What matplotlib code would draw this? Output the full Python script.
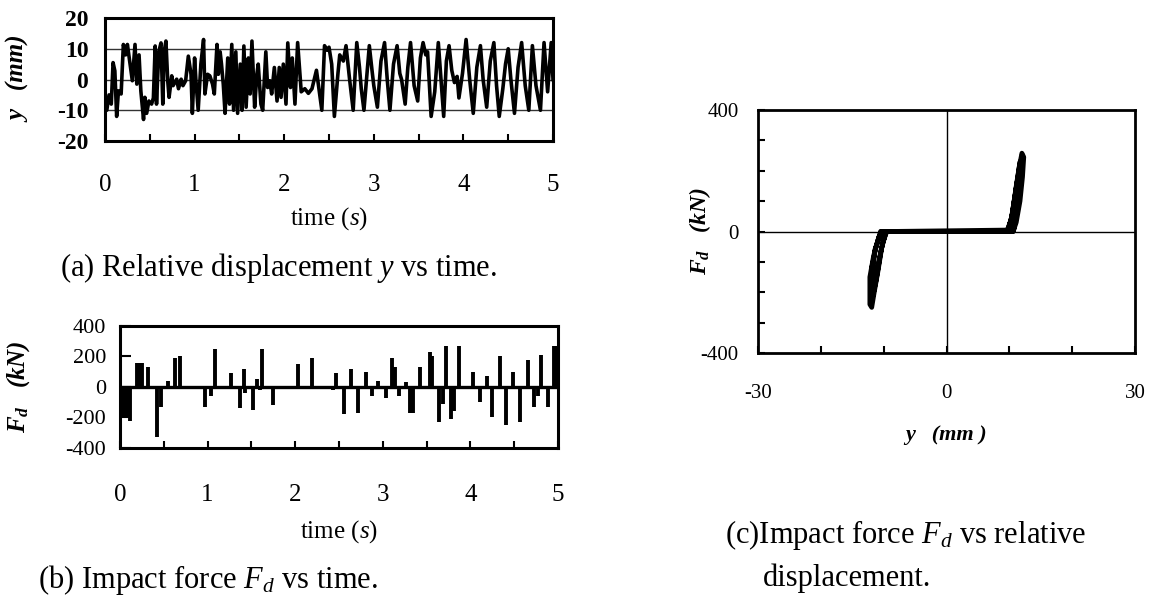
import numpy as np
import matplotlib.pyplot as plt

plt.rcParams['font.family'] = ['Liberation Serif', 'DejaVu Serif']
plt.rcParams['mathtext.fontset'] = 'custom'
plt.rcParams['mathtext.rm'] = 'Liberation Serif'
plt.rcParams['mathtext.it'] = 'Liberation Serif:italic'
plt.rcParams['mathtext.bf'] = 'Liberation Serif:italic:bold'
plt.rcParams['axes.unicode_minus'] = False

# (a) relative displacement y (mm) vs time (s), read as turning points
t_a = [0.00, 0.02, 0.045, 0.07, 0.09, 0.11, 0.13, 0.15, 0.18, 0.205, 0.23, 0.25, 0.28, 0.305,
       0.335, 0.355, 0.38, 0.40, 0.43, 0.445, 0.465, 0.49, 0.52, 0.54, 0.56, 0.575, 0.60, 0.625,
       0.645, 0.66, 0.68, 0.70, 0.715, 0.745, 0.76, 0.80, 0.82, 0.85, 0.87, 0.90, 0.93, 0.96,
       0.975, 1.00, 1.015, 1.04, 1.07, 1.10, 1.115, 1.145, 1.17, 1.20, 1.22, 1.25, 1.265, 1.285,
       1.30, 1.32, 1.34, 1.37, 1.39, 1.415, 1.435, 1.46, 1.48, 1.51, 1.53, 1.55, 1.575, 1.60,
       1.62, 1.64, 1.67, 1.695, 1.71, 1.74, 1.76, 1.795, 1.815, 1.84, 1.86, 1.89, 1.92, 1.945,
       1.965, 1.99, 2.02, 2.04, 2.07, 2.09, 2.12, 2.15, 2.19, 2.23, 2.27, 2.31, 2.36, 2.42,
       2.45, 2.48, 2.50, 2.53, 2.56, 2.60, 2.62, 2.66, 2.69, 2.73, 2.77, 2.81, 2.84, 2.86,
       2.89, 2.95, 2.98, 3.00, 3.04, 3.08, 3.12, 3.15, 3.18, 3.22, 3.26, 3.29, 3.31, 3.35,
       3.38, 3.41, 3.45, 3.49, 3.52, 3.55, 3.58, 3.60, 3.64, 3.68, 3.72, 3.75, 3.78, 3.81,
       3.84, 3.87, 3.90, 3.93, 3.95, 3.99, 4.03, 4.07, 4.11, 4.15, 4.19, 4.22, 4.26, 4.30,
       4.34, 4.37, 4.40, 4.44, 4.47, 4.50, 4.53, 4.57, 4.61, 4.65, 4.69, 4.73, 4.77, 4.81,
       4.86, 4.90, 4.94, 4.98, 5.00]
y_a = [-5.8, -10, -5, -8, 5.5, 2.8, -12, -3.7, -4.7, 11.4, 8, 11.4, 5, -0.4,
       11.4, -1.5, 8, -3.7, -13, -5.8, -11, -7, -8, -6, 10.9, -8, 9, 11.9,
       -8, 9, 12.5, -0.4, -5.8, 1.2, -2, 0.1, -3, 0.1, -2, -0.4, 7.6, 1.7,
       -11, 7, -0.4, -10, 5, 13, -4.7, 1.7, 1.2, -1.5, -4.7, 11.4, 1.7, 9,
       5, -1.5, -11, 7, -8, 11.4, -10, 9, -11, 5, -10, 10.9, -9, 7,
       -4.7, 12.5, -9, 1.7, 5, -8, -10, 9, -2.6, -0.4, -4.7, 3.9, -7, 3.9,
       -5.8, 5, -8, 11.9, -2.6, 7, -8, 12, -4, -3, -4.5, -3, 3, -10,
       11, 9.5, 10.5, 5, -12, 2, 8, 6, 11, 0, -10, 12, 4, -3,
       -10, 11, 3, -2, -9, 6, 12, 0, -10, 5, 11, 2, 0, -8,
       4, 12, -2, -7, 7, 12, 8, 9, -12, -4, 12, 0, -12, 6,
       11, 3, -1, 1, -6, 2, 13, 0, -11, 4, 11, 0, -9, 6,
       12, -2, -12, -3, 5, 10, 0, -11, 4, 12, -2, -10, 11, -2,
       -10, 12, -4, 12, 0]

# (b) impact force spikes (kN) vs time (s)
t_b = [0.02, 0.03, 0.05, 0.07, 0.09, 0.11, 0.19, 0.21, 0.23, 0.25, 0.32, 0.42, 0.47, 0.55,
       0.63, 0.69, 0.97, 1.04, 1.08, 1.27, 1.37, 1.41, 1.43, 1.52, 1.56, 1.60, 1.62, 1.75,
       2.03, 2.19, 2.43, 2.47, 2.56, 2.64, 2.72, 2.81, 2.88, 2.95, 3.04, 3.10, 3.14, 3.19,
       3.27, 3.31, 3.33, 3.35, 3.43, 3.54, 3.56, 3.64, 3.69, 3.72, 3.78, 3.81, 3.87, 4.03,
       4.11, 4.19, 4.25, 4.34, 4.41, 4.49, 4.57, 4.66, 4.73, 4.77, 4.81, 4.89, 4.96, 4.98]
f_b = [-30, -190, -190, -190, -200, -220, 160, 160, 160, 160, 130, -330, -130, 40,
       190, 200, -130, -60, 250, 90, -140, 120, -40, -150, 50, -20, 250, -120,
       150, 190, -20, 90, -180, 120, -170, 100, -60, 40, -70, 190, 130, -60,
       30, -170, -170, -170, 130, 230, 200, -230, -110, 270, -210, -160, 270, 100,
       -100, 70, -200, 200, -250, 100, -230, 180, -130, -60, 210, -130, 270, 270]

# (c) force vs displacement trajectory, y (mm) and F_d (kN)
c_disp = [0.0, 9.6, 10.3, 11.0, 11.6, 12.0, 12.3, 12.1, 11.7, 11.1, 10.6,
          -9.5, -10.2, -10.9, -11.5, -11.9, -12.2, -12.2, -11.6, -10.8, -10.3,
          9.7, 10.4, 11.1, 11.7, 12.0, 11.8, 11.3, 10.7,
          -9.6, -10.4, -11.2, -11.8, -12.1, -11.9, -11.2, -10.5,
          9.8, 10.5, 11.2, 11.6, 11.7, 11.2, 10.6,
          -9.7, -10.6, -11.4, -11.8, -11.4, -10.4, 0.0]
c_force = [0, 0, 40, 130, 215, 258, 245, 180, 100, 30, 0,
           0, -40, -130, -200, -250, -240, -150, -80, -20, 0,
           0, 50, 150, 230, 225, 150, 70, 5,
           0, -60, -160, -220, -200, -120, -50, 0,
           0, 60, 160, 185, 150, 60, 0,
           0, -80, -170, -150, -60, 0, 0]

fig = plt.figure(figsize=(11.61, 6.05), dpi=100)
half_ticks = ['0', '', '1', '', '2', '', '3', '', '4', '', '5']

# ---- (a)
ax_a = fig.add_axes([105 / 1161, 1 - 141 / 605, 448 / 1161, 123 / 605])
for g in (-10, 0, 10):
    ax_a.axhline(g, color='#333333', lw=1.0, zorder=1)
ax_a.plot(t_a, y_a, color='black', lw=2.6, zorder=2)
ax_a.set_xlim(0, 5)
ax_a.set_ylim(-20, 20)
ax_a.set_xticks(np.arange(0, 5.01, 0.5), half_ticks)
ax_a.set_yticks([-20, -10, 0, 10, 20])
ax_a.tick_params(axis='x', direction='in', length=5, width=1.5, pad=24, labelsize=18)
ax_a.tick_params(axis='y', length=0, pad=12, labelsize=17)
for lab in ax_a.get_yticklabels():
    lab.set_fontweight('bold')
for s in ax_a.spines.values():
    s.set_linewidth(2.2)
ax_a.set_xlabel('time ($s$)', fontsize=18, labelpad=6)
ax_a.set_ylabel('y   (mm)', fontsize=18, fontweight='bold', style='italic')
ax_a.yaxis.set_label_coords(-0.163, 0.5)

# ---- (b)
ax_b = fig.add_axes([120 / 1161, 1 - 448 / 605, 438 / 1161, 122 / 605])
ax_b.axhline(0, color='black', lw=2.4, zorder=1)
ax_b.vlines(t_b, 0, f_b, color='black', lw=2.8, zorder=2)
ax_b.set_xlim(0, 5)
ax_b.set_ylim(-400, 400)
ax_b.set_xticks(np.arange(0, 5.01, 0.5), half_ticks)
ax_b.set_yticks([-400, -200, 0, 200, 400])
ax_b.tick_params(axis='x', direction='in', length=5, width=1.5, pad=26, labelsize=18)
ax_b.tick_params(axis='y', direction='in', length=8, width=1.5, pad=10, labelsize=16)
for s in ax_b.spines.values():
    s.set_linewidth(2.2)
ax_b.set_xlabel('time ($s$)', fontsize=18, labelpad=9)
ax_b.set_ylabel(r'$\mathbf{F_d}$   (kN)', fontsize=18, fontweight='bold', style='italic')
ax_b.yaxis.set_label_coords(-0.2, 0.5)

# ---- (c)
ax_c = fig.add_axes([758 / 1161, 1 - 353 / 605, 377 / 1161, 243 / 605])
ax_c.axhline(0, color='black', lw=1.0, zorder=1)
ax_c.axvline(0, color='black', lw=1.0, zorder=1)
ax_c.plot(c_disp, c_force, color='black', lw=3.4, zorder=2, solid_joinstyle='round')
ax_c.set_xlim(-30, 30)
ax_c.set_ylim(-400, 400)
ax_c.set_xticks(np.arange(-30, 31, 10), ['-30', '', '', '0', '', '', '30'])
ax_c.set_yticks(np.arange(-400, 401, 100), ['-400', '', '', '', '0', '', '', '', '400'])
ax_c.tick_params(direction='in', length=5, width=1.5, labelsize=15)
ax_c.tick_params(axis='x', pad=22)
ax_c.tick_params(axis='y', pad=14)
for s in ax_c.spines.values():
    s.set_linewidth(2.0)
ax_c.set_xlabel('y   (mm )', fontsize=16, fontweight='bold', style='italic', labelpad=16)
ax_c.set_ylabel(r'$\mathbf{F_d}$   (kN)', fontsize=17, fontweight='bold', style='italic')
ax_c.yaxis.set_label_coords(-0.12, 0.5)

# ---- captions
fig.text(60 / 1161, 1 - 268 / 605, '(a) Relative displacement $y$ vs time.',
         fontsize=22, va='center')
fig.text(38 / 1161, 1 - 580 / 605, '(b) Impact force $F_d$ vs time.',
         fontsize=22, va='center')
fig.text(725 / 1161, 1 - 535 / 605, '(c)Impact force $F_d$ vs relative',
         fontsize=22, va='center')
fig.text(763 / 1161, 1 - 578 / 605, 'displacement.', fontsize=22, va='center')

fig.savefig('out.png', dpi=100)
